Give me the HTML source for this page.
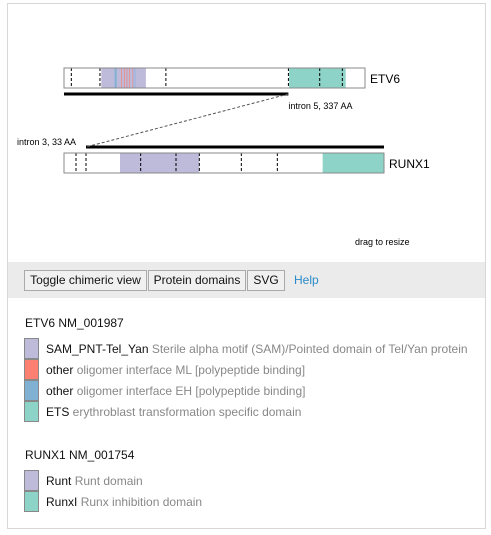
<!DOCTYPE html>
<html><head><meta charset="utf-8"><style>
body{margin:0;width:491px;height:535px;background:#fff;font-family:"Liberation Sans",Arial,sans-serif;position:relative;overflow:hidden}
#frame{position:absolute;left:7px;top:3px;width:477px;height:524px;border:1px solid #d8d8d8}
#bar{position:absolute;left:8px;top:262px;width:477px;height:36px;background:#ebebeb}
.btn{position:absolute;top:270px;border:1px solid #aaa;background:#f0f0f0;font-size:12px;line-height:19px;text-align:center;color:#111;box-sizing:border-box;height:21px}
.h{position:absolute;left:25px;font-size:12px;color:#111}
.it{position:absolute;left:46px;font-size:12px;color:#111}
.it span{color:#888}
.sw{position:absolute;left:24px;width:13px;height:19px;border:1px solid #888}
</style></head><body>
<div id="frame"></div>
<svg id="chart" width="491" height="260" style="position:absolute;left:0;top:0" font-family="Liberation Sans, Arial, sans-serif"></svg>
<div id="bar"></div>
<div class="btn" style="left:24px;width:123px">Toggle chimeric view</div>
<div class="btn" style="left:148px;width:98px">Protein domains</div>
<div class="btn" style="left:247px;width:38px">SVG</div>
<div style="position:absolute;left:294px;top:273px;font-size:12px;color:#2a8ac8">Help</div>

<div class="h" style="top:316px">ETV6 NM_001987</div>
<div class="sw" style="top:338px;background:#bebada"></div>
<div class="sw" style="top:359px;background:#fb8072"></div>
<div class="sw" style="top:380px;background:#80b1d3"></div>
<div class="sw" style="top:401px;background:#8dd3c7"></div>
<div class="it" style="top:342px">SAM_PNT-Tel_Yan <span>Sterile alpha motif (SAM)/Pointed domain of Tel/Yan protein</span></div>
<div class="it" style="top:363px">other <span>oligomer interface ML [polypeptide binding]</span></div>
<div class="it" style="top:384px">other <span>oligomer interface EH [polypeptide binding]</span></div>
<div class="it" style="top:405px">ETS <span>erythroblast transformation specific domain</span></div>

<div class="h" style="top:448px">RUNX1 NM_001754</div>
<div class="sw" style="top:470px;background:#bebada"></div>
<div class="sw" style="top:491px;background:#8dd3c7"></div>
<div class="it" style="top:474px">Runt <span>Runt domain</span></div>
<div class="it" style="top:495px">RunxI <span>Runx inhibition domain</span></div>

<script>
// ETV6 (protein length scaled 0..452 AA)
const etv6Len = 452;
const etv6Domains = [[56,123,'#bebada'],[76,79,'#80b1d3'],[86,87,'#fb8072'],[90,91,'#fb8072'],[94,95,'#fb8072'],[98,99,'#fb8072'],[103,104,'#fb8072'],[104,108,'#a9b8de'],[338,423,'#8dd3c7']];
const etv6Exons = [11,54,153,337,384,418];
const etv6Break = 337;
// RUNX1 (0..480 AA)
const runx1Len = 480;
const runx1Domains = [[84,203,'#bebada'],[388,480,'#8dd3c7']];
const runx1Exons = [18,33,115,168,203,266,320];
const runx1Break = 33;

const svg=document.getElementById('chart');const NS='http://www.w3.org/2000/svg';
function mk(t,a,p){const e=document.createElementNS(NS,t);for(const k in a)e.setAttribute(k,a[k]);(p||svg).appendChild(e);return e;}
const x0=64,w1=301,w2=320;
const xE=v=>x0+v/etv6Len*w1, xR=v=>x0+v/runx1Len*w2;
function gene(sx,len,doms,exons,y,name,label){
  const g=mk('g',{});
  
  
  mk('rect',{x:sx(0),y:y,width:sx(len)-sx(0),height:20,fill:'#fff',stroke:'#888'},g);
  doms.forEach(d=>{const r=mk('rect',{x:sx(d[0]),y:y+0.5,width:sx(d[1])-sx(d[0]),height:19,fill:d[2]},g);
    
    });
  exons.forEach(e=>{const l=mk('line',{x1:sx(e),x2:sx(e),y1:y,y2:y+20,stroke:'#000','stroke-dasharray':'3,2'},g);
    
    });
  mk('rect',{x:sx(0),y:y,width:sx(len)-sx(0),height:20,fill:'none',stroke:'#888'},g);
  const t=mk('text',{x:sx(len)+5,y:y+15,'font-size':12,fill:'#000'},g);t.textContent=label;
  
  
}
gene(xE,etv6Len,etv6Domains,etv6Exons,68,'etv6','ETV6');
gene(xR,runx1Len,runx1Domains,runx1Exons,153,'runx1','RUNX1');
let l=mk('line',{x1:xE(0),x2:xE(etv6Break),y1:94,y2:94,stroke:'#000','stroke-width':3});


l=mk('line',{x1:xR(runx1Break),x2:xR(runx1Len),y1:147,y2:147,stroke:'#000','stroke-width':3});


l=mk('line',{x1:xE(etv6Break),y1:94,x2:xR(runx1Break),y2:147,stroke:'#555','stroke-dasharray':'3,2'});


let t=mk('text',{x:xE(etv6Break),y:109,'font-size':9,fill:'#000'});t.textContent='intron 5, 337 AA';


t=mk('text',{x:17,y:145,'font-size':9,fill:'#000'});t.textContent='intron 3, 33 AA';


t=mk('text',{x:355,y:245,'font-size':9,fill:'#000'});t.textContent='drag to resize';


</script>
</body></html>
